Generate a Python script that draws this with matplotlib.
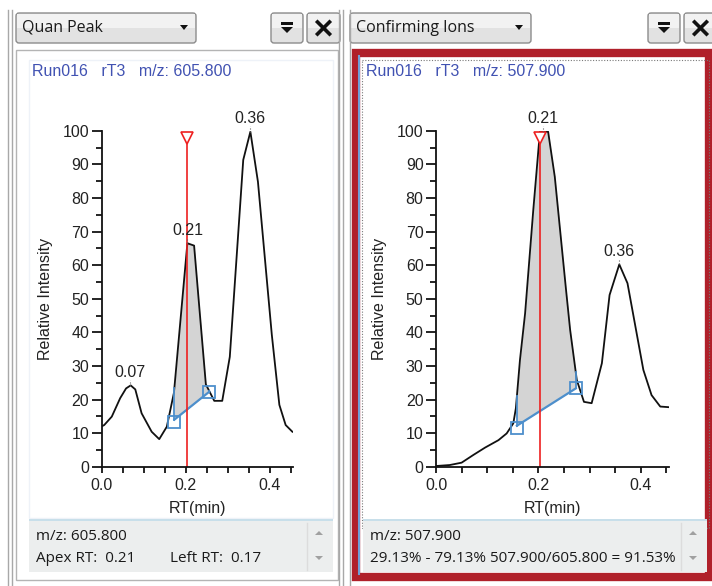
import numpy as np
import matplotlib.pyplot as plt
from matplotlib.patches import Rectangle, FancyBboxPatch, Polygon

# ---- data ----
quan_rt = [0.0, 0.006, 0.024, 0.044, 0.058, 0.069, 0.080, 0.095, 0.119, 0.137,
           0.155, 0.172, 0.204, 0.220, 0.232, 0.248, 0.268, 0.287, 0.305, 0.337,
           0.354, 0.372, 0.405, 0.423, 0.438, 0.454]
quan_int = [12.0, 12.4, 14.9, 20.4, 23.3, 24.2, 23.0, 15.9, 10.4, 8.2,
            11.9, 22.0, 66.5, 65.8, 48.0, 24.5, 19.6, 19.6, 32.7, 91.3,
            99.7, 84.8, 39.3, 18.4, 12.4, 10.4]
quan_peaks = [0.068, 0.204, 0.354]
quan_labels = ['0.07', '0.21', '0.36']
quan_left, quan_right = (0.173, 14.0), (0.256, 22.3)
quan_apex = 0.204

conf_rt = [0.0, 0.027, 0.050, 0.073, 0.096, 0.122, 0.138, 0.151, 0.156, 0.164,
           0.174, 0.190, 0.203, 0.219, 0.232, 0.254, 0.262, 0.275, 0.289, 0.304,
           0.324, 0.339, 0.358, 0.374, 0.405, 0.421, 0.438, 0.456]
conf_int = [0.2, 0.5, 1.2, 3.5, 5.7, 7.9, 9.9, 12.9, 17.4, 31.8,
            45.6, 76.4, 99.7, 99.7, 86.3, 52.6, 40.7, 25.8, 19.3, 18.9,
            30.8, 51.1, 60.2, 54.6, 28.8, 21.3, 17.9, 17.7]
conf_peaks = [0.209, 0.358]
conf_labels = ['0.21', '0.36']
conf_left, conf_right = (0.158, 12.2), (0.273, 23.3)
conf_apex = 0.204

W, H = 712, 586
fig = plt.figure(figsize=(W / 100, H / 100), dpi=100)
bg = fig.add_axes([0, 0, 1, 1])
bg.set_xlim(0, W)
bg.set_ylim(H, 0)
bg.axis('off')

ui_font = ['Open Sans', 'DejaVu Sans']
ch_font = ['Liberation Sans', 'DejaVu Sans']
red = '#ee2020'
blue = '#4d8fcc'


def rect(x0, y0, x1, y1, **kw):
    bg.add_patch(Rectangle((x0, y0), x1 - x0, y1 - y0, **kw))


def button(x0, x1, y0=13, y1=43):
    bg.add_patch(FancyBboxPatch((x0, y0), x1 - x0, y1 - y0,
                                boxstyle='round,pad=0,rounding_size=3',
                                fc='#e2e2e2', ec='#8c8c8c', lw=1))
    rect(x0 + 1, y0 + 1, x1 - 1, (y0 + y1) / 2, fc='#f2f2f2', ec='none')


def dropdown(x0, x1, label):
    button(x0, x1)
    bg.text(x0 + 6, 28, label, fontsize=11.5, family=ui_font, va='center', color='#1a1a1a')
    bg.add_patch(Polygon([[x1 - 16, 25], [x1 - 8, 25], [x1 - 12, 30]], fc='#111111'))


def icons(x0):
    button(x0, x0 + 32)
    cx = x0 + 16
    rect(cx - 6, 22, cx + 6, 24.5, fc='#111111', ec='none')
    bg.add_patch(Polygon([[cx - 6, 27], [cx + 6, 27], [cx, 33]], fc='#111111'))
    button(x0 + 36, x0 + 69)
    cx = x0 + 52.5
    bg.plot([cx - 6, cx + 6], [22, 34], color='#111111', lw=2.6)
    bg.plot([cx - 6, cx + 6], [34, 22], color='#111111', lw=2.6)


def info_box(x0, x1, lines):
    rect(x0, 518.5, x1, 520.5, fc='#c8dfea', ec='none')
    rect(x0, 521, x1, 572, fc='#eceeee', ec='none')
    bg.plot([x1 - 26, x1 - 26], [523, 570], color='#dcdcdc', lw=1)
    ax_ = x1 - 14
    bg.add_patch(Polygon([[ax_ - 4, 535], [ax_ + 4, 535], [ax_, 531]], fc='#a0a0a0'))
    bg.add_patch(Polygon([[ax_ - 4, 556], [ax_ + 4, 556], [ax_, 560]], fc='#a0a0a0'))
    for y, items in lines:
        for x, s in items:
            bg.text(x, y, s, fontsize=11, family=ui_font, va='center', color='#1a1a1a')


# ---- window chrome ----
for x in (8, 12):
    bg.plot([x, x], [10, 586], color='#a8a8a8', lw=1)
for x in (339, 343, 350):
    bg.plot([x, x], [10, 586], color='#a8a8a8', lw=1)

dropdown(16, 196, 'Quan Peak')
icons(271)
dropdown(350, 531, 'Confirming Ions')
icons(648)

# left panel
rect(16, 50, 338, 580, fc='white', ec='#b4b4b4', lw=1)
rect(29, 60, 333, 518, fc='white', ec='#eef2f8', lw=1)
bg.text(32, 72, 'Run016   rT3   m/z: 605.800', fontsize=11.5, family=ch_font,
        va='center', color='#4152b2')
info_box(29, 333, [(537, [(36, 'm/z: 605.800')]),
                   (558, [(36, 'Apex RT:  0.21'), (170, 'Left RT:  0.17')])])

# right panel (selected, red frame)
rect(356, 53, 709, 577, fc='white', ec='#b0202a', lw=6)
bg.plot([358.5, 358.5], [56, 574], color='#6f9fd6', lw=1.5)
rect(362, 60, 709, 528, fc='none', ec='#7a7a7a', lw=0.8, ls=(0, (1, 1.5)))
bg.text(366, 72, 'Run016   rT3   m/z: 507.900', fontsize=11.5, family=ch_font,
        va='center', color='#4152b2')
info_box(363, 707, [(537, [(370, 'm/z: 507.900')]),
                    (558, [(370, '29.13% - 79.13% 507.900/605.800 = 91.53%')])])


# ---- chromatograms ----
def chrom(left_px, px_per_min, rt, inten, peaks, labels, lb, rb, apex):
    xmax = 0.455
    ax = fig.add_axes([left_px / W, (H - 466.7) / H, xmax * px_per_min / W, 336 / H])
    ax.set_facecolor('none')
    ax.set_xlim(0, xmax)
    ax.set_ylim(0, 100)
    for s in ('top', 'right'):
        ax.spines[s].set_visible(False)
    for s in ('left', 'bottom'):
        ax.spines[s].set_linewidth(1.3)
        ax.spines[s].set_color('#111111')
    ax.set_xticks([0.0, 0.2, 0.4])
    ax.set_xticks(np.arange(0, 0.46, 0.05), minor=True)
    ax.set_yticks(np.arange(0, 101, 10))
    ax.set_yticks(np.arange(0, 101, 5), minor=True)
    ax.xaxis.set_major_formatter(plt.FormatStrFormatter('%.1f'))
    ax.tick_params(axis='y', which='major', length=7, width=1.2, pad=2, labelsize=11.5)
    ax.tick_params(axis='y', which='minor', length=4, width=1.2)
    ax.tick_params(axis='x', which='both', length=4, width=1.2, pad=4, labelsize=11.5)
    for lab in ax.get_xticklabels() + ax.get_yticklabels():
        lab.set_family(ch_font)
        lab.set_color('#222222')
    ax.set_xlabel('RT(min)', fontsize=11.5, family=ch_font, labelpad=6, color='#222222')
    ax.set_ylabel('Relative Intensity', fontsize=11.5, family=ch_font, labelpad=7,
                  color='#222222')

    rt = np.asarray(rt)
    inten = np.asarray(inten)
    inside = (rt > lb[0]) & (rt < rb[0])
    fx = np.concatenate([[lb[0]], rt[inside], [rb[0]]])
    fy = np.interp(fx, rt, inten)
    base = np.interp(fx, [lb[0], rb[0]], [lb[1], rb[1]])
    ax.fill_between(fx, base, fy, color='#d4d4d4', lw=0)
    ax.plot(rt, inten, color='#111111', lw=1.3)

    ax.plot([lb[0], lb[0]], [lb[1], np.interp(lb[0], rt, inten)], color=blue, lw=1.3)
    ax.plot([rb[0], rb[0]], [rb[1], np.interp(rb[0], rt, inten)], color=blue, lw=1.3)
    ax.plot([lb[0], rb[0]], [lb[1], rb[1]], color=blue, lw=1.6)
    ax.plot([lb[0], rb[0]], [lb[1] - 0.8, rb[1]], ls='none', marker='s', ms=8,
            mfc='none', mec=blue, mew=1.3)

    ax.plot([apex, apex], [0, 99], color=red, lw=1.2)
    ax.plot(apex, 97.8, marker='v', ms=9, mfc='white', mec=red, mew=1.2, clip_on=False)

    for p, s in zip(peaks, labels):
        h = np.interp(p, rt, inten)
        ax.annotate(s, xy=(p, h), xytext=(0, 4), textcoords='offset points',
                    ha='center', va='bottom', fontsize=11.5, family=ch_font,
                    color='#222222', annotation_clip=False)
        ax.plot([p, p], [h, h + 1.6], color='#666666', lw=0.8, ls=':', clip_on=False)
    return ax


chrom(101.7, 420, quan_rt, quan_int, quan_peaks, quan_labels, quan_left, quan_right, quan_apex)
chrom(436, 512, conf_rt, conf_int, conf_peaks, conf_labels, conf_left, conf_right, conf_apex)

fig.savefig('out.png', dpi=100)
